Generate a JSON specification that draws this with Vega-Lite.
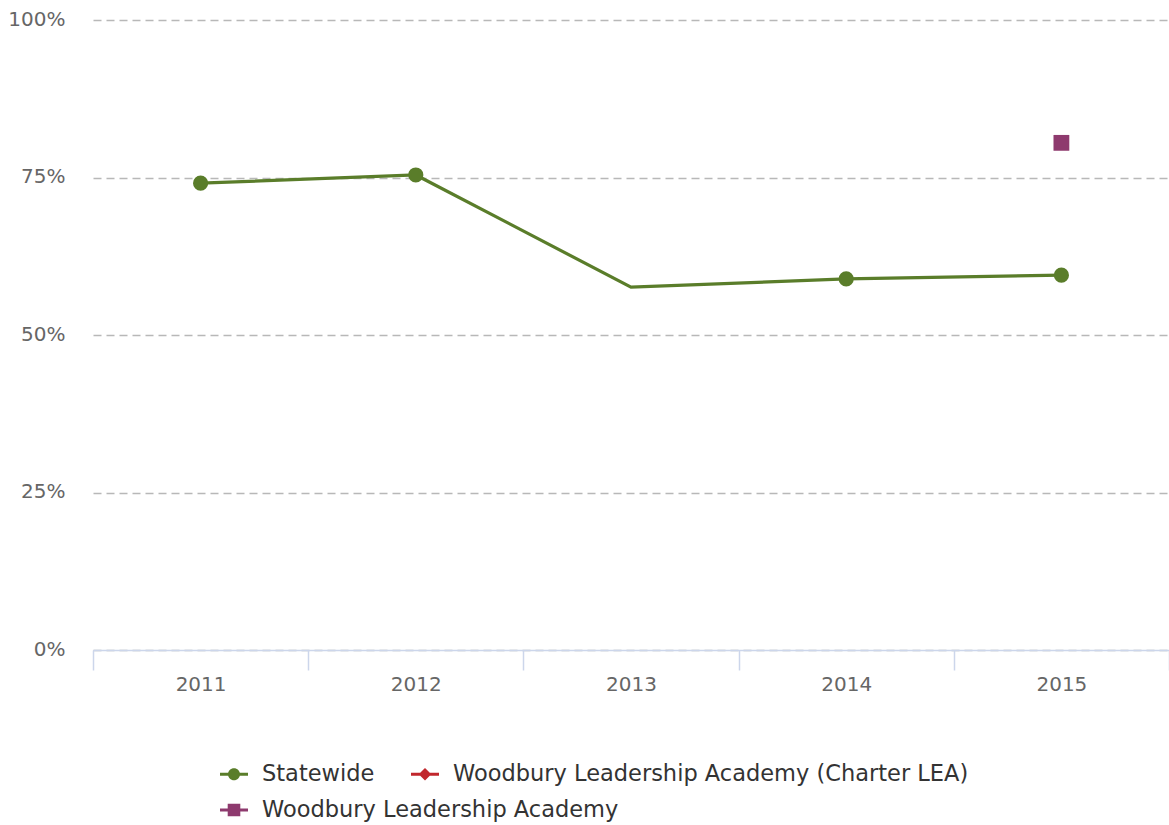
{
  "$schema": "https://vega.github.io/schema/vega-lite/v6.json",
  "width": 1076,
  "height": 630,
  "autosize": {"type": "none"},
  "padding": {"left": 93, "top": 20, "right": 0, "bottom": 175},
  "background": "white",
  "config": {
    "view": {"stroke": null},
    "font": "DejaVu Sans"
  },
  "data": {
    "values": [
      {"year": "2011", "series": "Statewide", "value": 0.741},
      {"year": "2012", "series": "Statewide", "value": 0.754},
      {"year": "2013", "series": "Statewide", "value": 0.576},
      {"year": "2014", "series": "Statewide", "value": 0.589},
      {"year": "2015", "series": "Statewide", "value": 0.595},
      {"year": "2015", "series": "Woodbury Leadership Academy", "value": 0.805}
    ]
  },
  "encoding": {
    "x": {
      "field": "year", "type": "ordinal",
      "scale": {"paddingInner": 0, "paddingOuter": 0},
      "axis": {
        "title": null, "labelAngle": 0, "tickBand": "extent",
        "domainColor": "#ccd6eb", "domainWidth": 1.5, "tickColor": "#ccd6eb", "tickWidth": 1.5, "tickSize": 20,
        "labelFontSize": 20, "labelColor": "#666666", "labelPadding": 4,
        "grid": false
      }
    },
    "y": {
      "field": "value", "type": "quantitative",
      "scale": {"domain": [0, 1]},
      "axis": {
        "title": null, "format": ".0%", "values": [0, 0.25, 0.5, 0.75, 1],
        "domain": false, "ticks": false, "labelPadding": 28,
        "labelFontSize": 20, "labelColor": "#666666", "labelBaseline": "alphabetic", "labelOffset": 5,
        "grid": true, "gridColor": "#b8b8b8", "gridDash": [8, 5], "gridWidth": 1.3
      }
    },
    "color": {
      "field": "series", "type": "nominal",
      "scale": {
        "domain": ["Statewide", "Woodbury Leadership Academy (Charter LEA)", "Woodbury Leadership Academy"],
        "range": ["#5a7d2a", "#c1272d", "#8e3a6e"]
      },
      "legend": {
        "title": null,
        "values": ["Statewide", "Woodbury Leadership Academy (Charter LEA)"],
        "orient": "none", "legendX": 127, "legendY": 740,
        "direction": "horizontal",
        "columnPadding": 36, "labelLimit": 0,
        "labelFontSize": 22.5, "labelColor": "#333333", "labelOffset": 14,
        "symbolSize": 784, "symbolStrokeWidth": 0,
        "encode": {
          "symbols": {
            "update": {
              "shape": {"signal": "datum.value == 'Statewide' ? 'M-1,-0.1 H1 V0.1 H-1 Z M-0.43,0 A0.43,0.43 0 1,1 0.43,0 A0.43,0.43 0 1,1 -0.43,0 Z' : 'M-1,-0.1 H1 V0.1 H-1 Z M0,-0.45 L0.45,0 L0,0.45 L-0.45,0 Z'"},
              "size": {"value": 784},
              "fill": {"signal": "scale('color', datum.value)"},
              "stroke": {"value": "transparent"},
              "strokeWidth": {"value": 0},
              "opacity": {"value": 1}
            }
          }
        }
      }
    }
  },
  "layer": [
    {
      "transform": [{"filter": "datum.series == 'Statewide'"}],
      "mark": {"type": "line", "strokeWidth": 3.2}
    },
    {
      "transform": [{"filter": "datum.year != '2013' && datum.series == 'Statewide'"}],
      "mark": {"type": "point", "filled": true, "opacity": 1, "shape": "circle", "size": 230}
    },
    {
      "transform": [{"filter": "datum.series == 'Woodbury Leadership Academy'"}],
      "mark": {"type": "point", "filled": true, "opacity": 1, "shape": "square", "size": 250},
      "encoding": {
        "fill": {
          "field": "series", "type": "nominal",
          "scale": {"domain": ["Woodbury Leadership Academy"], "range": ["#8e3a6e"]},
          "legend": {
            "title": null,
            "orient": "none", "legendX": 127, "legendY": 776,
            "direction": "horizontal", "labelLimit": 0,
            "labelFontSize": 22.5, "labelColor": "#333333", "labelOffset": 14,
            "symbolSize": 784, "symbolStrokeWidth": 0,
            "symbolType": "M-1,-0.1 H1 V0.1 H-1 Z M-0.45,-0.45 H0.45 V0.45 H-0.45 Z",
            "encode": {
              "symbols": {
                "update": {
                  "shape": {"signal": "'M-1,-0.1 H1 V0.1 H-1 Z M-0.45,-0.45 H0.45 V0.45 H-0.45 Z'"},
                  "size": {"value": 784},
                  "fill": {"value": "#8e3a6e"},
                  "stroke": {"value": "transparent"},
                  "strokeWidth": {"value": 0},
                  "opacity": {"value": 1}
                }
              }
            }
          }
        }
      }
    }
  ]
}
